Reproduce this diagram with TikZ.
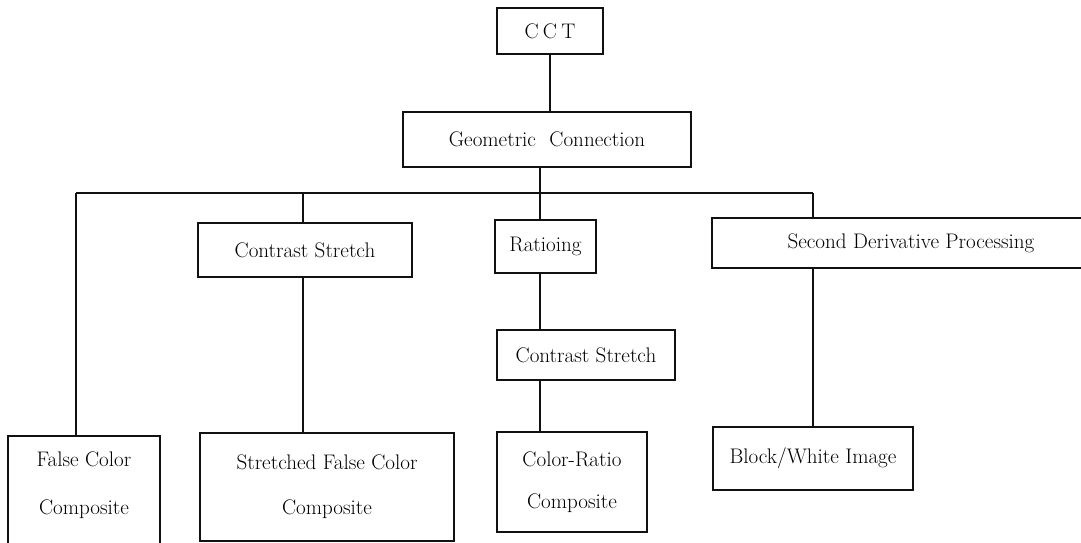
\documentclass[tikz,border=0pt]{standalone}
\usepackage{tikz}
\usetikzlibrary{positioning, calc}
\definecolor{inkline}{HTML}{111111}
\tikzset{
  procbox/.style={draw=inkline, line width=1pt, inner sep=0pt, align=center,
    font=\fontsize{15}{18}\selectfont},
  wire/.style={draw=inkline, line width=1pt}
}

\begin{document}
\begin{tikzpicture}[x=0.025cm, y=-0.025cm]
        \useasboundingbox (0,0) rectangle (1081,542);
        \clip (0,0) rectangle (1081,542);

        % Source tape
        \node[procbox, minimum width=2.65cm, minimum height=1.15cm] (cct) at (550, 31) {C\hspace{3pt}C\hspace{3pt}T};

        % Geometric step
        \node[procbox, minimum width=7.2cm, minimum height=1.375cm] (geo) at (547, 139.5) {Geometric\hspace{5pt} Connection};

        % Middle row
        \node[procbox, minimum width=5.35cm, minimum height=1.35cm] (stretchA) at (305, 250) {Contrast Stretch};
        \node[procbox, minimum width=2.525cm, minimum height=1.325cm] (ratio) at (545.5, 246.5) {Ratioing};
        \node[procbox, minimum width=4.45cm, minimum height=1.25cm] (stretchB) at (586, 355) {Contrast Stretch};
        \node[procbox, minimum width=9.95cm, minimum height=1.25cm] (deriv) at (911, 243) {Second Derivative Processing};

        % Products
        \node[procbox, minimum width=3.8cm, minimum height=3.1cm, text depth=0.75cm] (falsecol) at (84, 498) {False Color\\[16pt]Composite};
        \node[procbox, minimum width=6.35cm, minimum height=2.7cm] (stretchcol) at (327, 487) {Stretched False Color\\[14pt]Composite};
        \node[procbox, minimum width=3.75cm, minimum height=2.5cm] (ratiocol) at (572, 482) {Color-Ratio\\[12pt]Composite};
        \node[procbox, minimum width=5cm, minimum height=1.575cm] (bwimage) at (813, 458.5) {Block/White Image};

        % Branch line
        \coordinate (busL) at (76, 193);
        \coordinate (busR) at (813, 193);
        \coordinate (junc) at (540, 193);
        \coordinate (leftdrop) at (303, 193);

        \draw[wire] (cct.south) -- (cct.south |- geo.north);
        \draw[wire] (junc |- geo.south) -- (junc);
        \draw[wire] (busL) -- (busR);

        \draw[wire] (busL) -- (busL |- falsecol.north);
        \draw[wire] (leftdrop) -- (leftdrop |- stretchA.north);
        \draw[wire] (leftdrop |- stretchA.south) -- (leftdrop |- stretchcol.north);
        \draw[wire] (junc) -- (junc |- ratio.north);
        \draw[wire] (junc |- ratio.south) -- (junc |- stretchB.north);
        \draw[wire] (junc |- stretchB.south) -- (junc |- ratiocol.north);
        \draw[wire] (busR) -- (busR |- deriv.north);
        \draw[wire] (busR |- deriv.south) -- (busR |- bwimage.north);
    \end{tikzpicture}
\end{document}
